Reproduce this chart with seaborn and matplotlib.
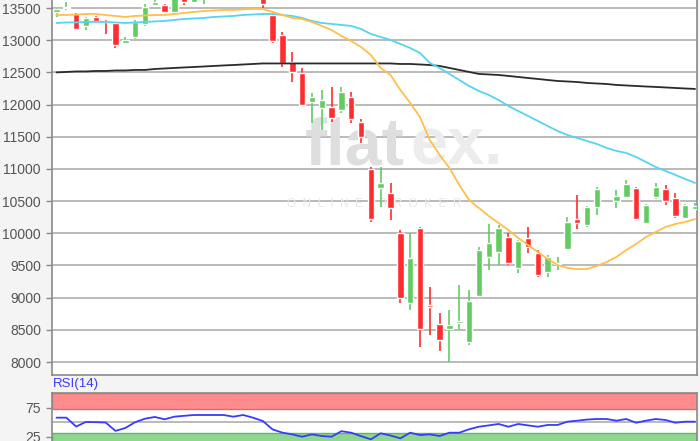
# coding: utf-8

import numpy as np
import pandas as pd
import matplotlib
matplotlib.use('Agg')
import matplotlib.pyplot as plt
import seaborn as sns


# daily candles (open, high, low, close)
opens = [13440, 13505, 13410, 13222, 13360, 13300, 13268, 12957, 13050, 13253,
         13548, 13548, 13440, 13660, 13600, 13660, 13720, 13760, 13710, 13750,
         13790, 13720, 13392, 13082, 12662, 12491, 12040, 11947, 11963, 11916,
         12118, 11730, 10999, 10704, 10626, 10005, 8917, 10082, 8880, 8591,
         8513, 8606, 8311, 9026, 9632, 9709, 9942, 9461, 9927, 9694,
         9399, 9530, 9756, 10222, 10129, 10409, 10690, 10502, 10564, 10704,
         10160, 10564, 10688, 10549, 10238, 10378]
highs = [13500, 13590, 13420, 13360, 13375, 13320, 13280, 13050, 13310, 13560,
         13640, 13560, 13680, 13690, 13700, 13740, 13790, 13800, 13780, 13820,
         13810, 13750, 13410, 13128, 12817, 12569, 12180, 12227, 12274, 12274,
         12196, 11776, 11030, 11030, 10782, 10051, 10005, 10098, 9166, 8761,
         8808, 9197, 9119, 9790, 10144, 10129, 10005, 9895, 10098, 9740,
         9663, 9632, 10253, 10595, 10420, 10720, 10690, 10673, 10828, 10720,
         10450, 10782, 10751, 10626, 10455, 10471]
lows = [13360, 13470, 13160, 13160, 13290, 13100, 12880, 12940, 13020, 13220,
        13530, 13420, 13420, 13548, 13590, 13570, 13700, 13690, 13660, 13700,
        13680, 13500, 12957, 12584, 12351, 11978, 11714, 11605, 11730, 11869,
        11714, 11403, 10176, 10409, 10207, 8917, 8808, 8233, 8420, 8171,
        8000, 8513, 8264, 9010, 9430, 9507, 9507, 9383, 9694, 9321,
        9321, 9430, 9740, 10067, 10098, 10284, 10690, 10393, 10550, 10207,
        10144, 10533, 10440, 10238, 10230, 10370]
closes = [13490, 13520, 13175, 13346, 13300, 13290, 12926, 13010, 13284, 13517,
          13590, 13439, 13650, 13595, 13680, 13720, 13760, 13710, 13750, 13790,
          13700, 13563, 12988, 12646, 12507, 11994, 12118, 12071, 11792, 12196,
          11776, 11497, 10222, 10782, 10393, 8995, 9616, 8513, 8862, 8342,
          8575, 8630, 8948, 9740, 9849, 10082, 9538, 9880, 9787, 9352,
          9632, 9545, 10176, 10160, 10409, 10688, 10690, 10580, 10766, 10222,
          10440, 10720, 10502, 10269, 10440, 10424]

# moving averages
ma_fast = [13392, 13392, 13400, 13408, 13408, 13392, 13377, 13361, 13377, 13384,
           13392, 13392, 13408, 13423, 13439, 13454, 13462, 13470, 13470, 13478,
           13486, 13486, 13439, 13392, 13346, 13330, 13284, 13222, 13159, 13066,
           12988, 12895, 12771, 12569, 12460, 12227, 12025, 11807, 11450, 11217,
           11015, 10751, 10517, 10393, 10269, 10160, 10051, 9927, 9818, 9709,
           9601, 9507, 9461, 9445, 9445, 9492, 9554, 9632, 9740, 9834,
           9942, 10020, 10098, 10144, 10176, 10222]
ma_mid = [13268, 13276, 13276, 13284, 13284, 13284, 13276, 13268, 13276, 13284,
          13292, 13299, 13315, 13330, 13338, 13346, 13361, 13369, 13377, 13392,
          13400, 13408, 13408, 13392, 13377, 13346, 13299, 13268, 13253, 13237,
          13222, 13175, 13097, 13051, 13004, 12942, 12880, 12802, 12646, 12569,
          12476, 12382, 12289, 12211, 12149, 12071, 11978, 11900, 11823, 11745,
          11667, 11590, 11528, 11481, 11434, 11388, 11326, 11279, 11248, 11186,
          11108, 11030, 10968, 10906, 10844, 10782]
ma_slow = [12500, 12507, 12515, 12515, 12522, 12522, 12530, 12530, 12538, 12538,
           12553, 12561, 12569, 12577, 12584, 12592, 12600, 12608, 12615, 12623,
           12631, 12639, 12639, 12639, 12639, 12639, 12639, 12639, 12639, 12639,
           12639, 12639, 12639, 12639, 12639, 12631, 12631, 12623, 12615, 12600,
           12569, 12538, 12507, 12476, 12468, 12460, 12445, 12429, 12413, 12398,
           12382, 12367, 12359, 12351, 12336, 12328, 12320, 12305, 12297, 12289,
           12281, 12274, 12266, 12258, 12250, 12243]

# RSI(14)
rsi = [57.8, 57.8, 42.5, 50.5, 50, 49.5, 35, 40, 50, 56,
       59, 55, 59.5, 61, 62.4, 62.4, 62.4, 62.4, 59.5, 62.4,
       57.8, 52, 37.5, 32, 29, 25, 29, 26.2, 25, 34.5,
       31.9, 26, 20.5, 30.9, 27, 22.2, 31.9, 27.9, 29, 26.2,
       31.9, 31.9, 37.8, 42.2, 44.5, 46.9, 42.2, 46.9, 44.5, 42.2,
       45.2, 45.2, 50.9, 52.6, 54.5, 55.5, 55.5, 52.6, 55.5, 49.1,
       52.6, 55.5, 53.8, 49.1, 50.9, 50.9]

price_ticks = [8000, 8500, 9000, 9500, 10000, 10500, 11000, 11500, 12000, 12500, 13000, 13500]
rsi_ticks = [25, 75]

df = pd.DataFrame({'open': opens, 'high': highs, 'low': lows, 'close': closes,
                   'ma_fast': ma_fast, 'ma_mid': ma_mid, 'ma_slow': ma_slow, 'rsi': rsi})
df['idx'] = np.arange(len(df))

sns.set_style('white')
plt.rcParams['font.family'] = ['Liberation Sans', 'DejaVu Sans']

UP = '#62cc62'
DOWN = '#ff2d2d'
FLAT = '#6a3fd6'
GRID = '#b4b4b4'
SPINE = '#8a8a8a'

fig = plt.figure(figsize=(7, 4.41), dpi=100, facecolor='#f4f4f4')
ax = fig.add_axes([52 / 700, 66 / 441, 645 / 700, 375 / 441])
ax2 = fig.add_axes([52 / 700, 0, 645 / 700, 48 / 441])

##main price panel
ax.set_facecolor('white')
for y in price_ticks:
    ax.axhline(y, color=GRID, lw=1.3, zorder=0)

# watermark
ax.text(0.547, 0.607, 'flat', transform=ax.transAxes, fontsize=48, fontweight='bold',
        color='#dedede', ha='right', va='center', zorder=1)
ax.text(0.556, 0.607, 'ex.', transform=ax.transAxes, fontsize=48, fontweight='bold',
        color='#ececec', ha='left', va='center', zorder=1)
ax.text(0.5, 0.455, 'O  N  L  I  N  E     B  R  O  K  E  R', transform=ax.transAxes, fontsize=8.5,
        color='#e8e8e8', ha='center', va='center', zorder=1)

colors = np.where(df['close'] > df['open'], UP, np.where(df['close'] < df['open'], DOWN, FLAT))
ax.vlines(df['idx'], df['low'], df['high'], colors=colors, lw=1.2, zorder=3)
body_lo = np.minimum(df['open'], df['close'])
body_h = np.maximum(np.abs(df['close'] - df['open']), 12)
ax.bar(df['idx'], body_h, bottom=body_lo, width=0.66, color=colors, zorder=4)

sns.lineplot(data=df, x='idx', y='ma_slow', ax=ax, color='#2b2b2b', lw=1.3, zorder=5)
sns.lineplot(data=df, x='idx', y='ma_mid', ax=ax, color='#55d4f5', lw=1.3, zorder=5)
sns.lineplot(data=df, x='idx', y='ma_fast', ax=ax, color='#ffbf4a', lw=1.3, zorder=5)

ax.set_xlim(-0.46, 65.2)
ax.set_ylim(7798, 13625)
ax.set_yticks(price_ticks)
ax.set_xticks([])
ax.set_xlabel('')
ax.set_ylabel('')
ax.tick_params(axis='y', length=4, width=1, color=SPINE, labelsize=10, labelcolor='#555555', pad=4, left=True)
ax.spines['top'].set_visible(False)
for s in ['left', 'right', 'bottom']:
    ax.spines[s].set_color(SPINE)
    ax.spines[s].set_linewidth(1.2)

##RSI panel
ax2.set_facecolor('white')
ax2.axhspan(72, 100.3, facecolor='#ff8c8c', edgecolor='#e06a6a', lw=1, zorder=1)
ax2.axhspan(0, 31, facecolor='#8fd68f', edgecolor='#60b860', lw=1, zorder=1)
ax2.axhline(50, color=GRID, lw=1.3, zorder=2)
sns.lineplot(data=df, x='idx', y='rsi', ax=ax2, color='#3a3aff', lw=1.3, zorder=3)
ax2.set_xlim(-0.46, 65.2)
ax2.set_ylim(17.6, 100.3)
ax2.set_yticks(rsi_ticks)
ax2.set_xticks([])
ax2.set_xlabel('')
ax2.set_ylabel('')
ax2.tick_params(axis='y', length=4, width=1, color=SPINE, labelsize=10, labelcolor='#555555', pad=4, left=True)
for s in ['left', 'right', 'top', 'bottom']:
    ax2.spines[s].set_color(SPINE)
    ax2.spines[s].set_linewidth(1.2)
ax2.spines['bottom'].set_visible(False)
fig.text(53 / 700, 1 - 384 / 441, 'RSI(14)', color='#3a3aff', fontsize=9.5, ha='left', va='center')

fig.savefig('out.png', dpi=100, facecolor=fig.get_facecolor())
